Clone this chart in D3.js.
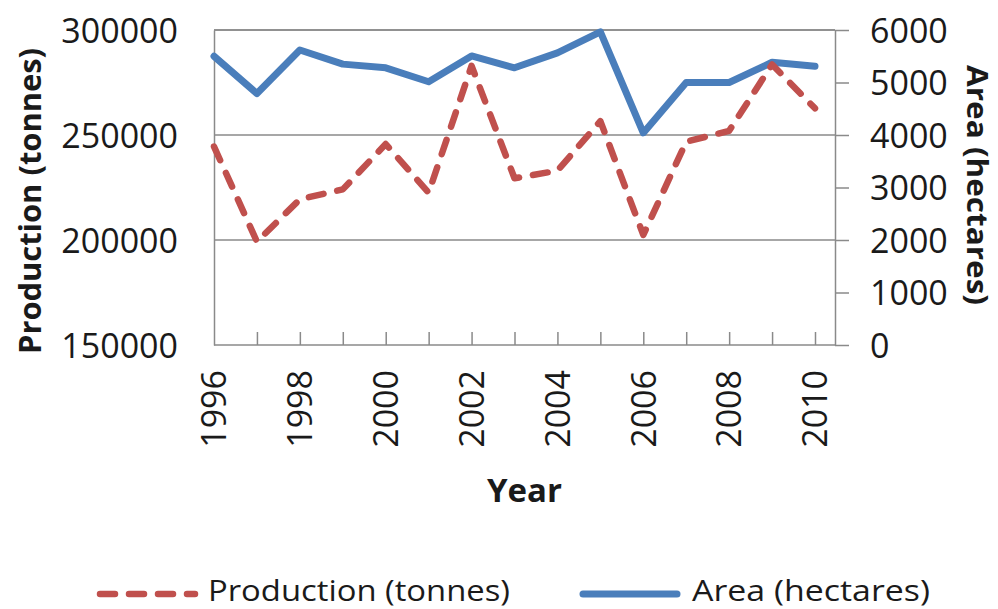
<!DOCTYPE html>
<html>
<head>
<meta charset="utf-8">
<script src="https://cdn.jsdelivr.net/npm/d3@7"></script>
<style>
  html, body { margin: 0; padding: 0; background: #fff; }
  svg { display: block; }
  text { font-family: "Open Sans", "DejaVu Sans", sans-serif; fill: #1a1a1a; }
</style>
</head>
<body>
<svg id="chart" width="998" height="609"></svg>
<script>
// ---- data ----
const years = [1996, 1997, 1998, 1999, 2000, 2001, 2002, 2003, 2004, 2005, 2006, 2007, 2008, 2009, 2010];
const production = [244500, 199200, 219400, 224100, 245700, 222500, 282900, 229400, 233000, 256600, 202400, 246800, 252000, 283600, 262700];
const area = [5500, 4790, 5620, 5350, 5280, 5015, 5505, 5280, 5565, 5965, 4040, 5000, 5000, 5385, 5310];
const yearLabels = [1996, 1998, 2000, 2002, 2004, 2006, 2008, 2010];
const leftTicks = [150000, 200000, 250000, 300000];
const rightTicks = [0, 1000, 2000, 3000, 4000, 5000, 6000];
const seriesNames = ["Production (tonnes)", "Area (hectares)"];

// ---- layout ----
const svg = d3.select("#chart");
const L = 214, R = 835, T = 30, B = 345, lastX = 815;
const gridColor = "#8a8a8a";
const red = "#C0504D", blue = "#4A7EBB";

const x = d3.scaleLinear().domain([years[0], years[years.length - 1]]).range([L, lastX]);
const yL = d3.scaleLinear().domain([150000, 300000]).range([B, T]);
const yR = d3.scaleLinear().domain([0, 6000]).range([B, T]);

// gridlines (left axis major)
svg.append("g").selectAll("line").data(leftTicks.slice(1)).join("line")
  .attr("x1", L).attr("x2", R)
  .attr("y1", d => yL(d)).attr("y2", d => yL(d))
  .attr("stroke", gridColor).attr("stroke-width", 1.5);

// left axis (line, no ticks)
const gL = svg.append("g").attr("transform", `translate(${L},0)`)
  .call(d3.axisLeft(yL).tickValues(leftTicks).tickSize(0).tickPadding(36).tickFormat(d3.format("d")));
gL.select(".domain").attr("stroke", gridColor).attr("stroke-width", 1.5);
gL.selectAll("text").attr("font-size", 34).attr("fill", "#1a1a1a")
  .attr("font-family", "Open Sans").attr("dy", "0.36em");

// right axis
const gR = svg.append("g").attr("transform", `translate(${R},0)`)
  .call(d3.axisRight(yR).tickValues(rightTicks).tickSize(14).tickSizeOuter(0).tickPadding(21).tickFormat(d3.format("d")));
gR.select(".domain").attr("stroke", gridColor).attr("stroke-width", 1.5);
gR.selectAll(".tick line").attr("stroke", gridColor).attr("stroke-width", 1.5);
gR.selectAll("text").attr("font-size", 34).attr("fill", "#1a1a1a")
  .attr("font-family", "Open Sans").attr("dy", "0.36em");

// bottom axis (ticks pointing inward)
const gB = svg.append("g").attr("transform", `translate(0,${B})`)
  .call(d3.axisBottom(x).tickValues(years.slice(1)).tickSize(-13).tickSizeOuter(0).tickFormat(""));
gB.select(".domain").attr("d", `M${L},0H${R}`).attr("stroke", gridColor).attr("stroke-width", 1.5);
gB.selectAll(".tick line").attr("stroke", gridColor).attr("stroke-width", 1.5);

// top frame line (300000 gridline)
svg.append("line").attr("x1", L).attr("x2", R).attr("y1", yL(300000)).attr("y2", yL(300000))
  .attr("stroke", gridColor).attr("stroke-width", 1.5);

// x tick labels (rotated)
svg.append("g").selectAll("text").data(yearLabels).join("text")
  .attr("transform", d => `translate(${x(d)},370) rotate(-90)`)
  .attr("text-anchor", "end").attr("dy", "0.36em")
  .attr("font-size", 34)
  .text(d => d);

// series lines
const lineP = d3.line().x((d, i) => x(years[i])).y(d => yL(d));
const lineA = d3.line().x((d, i) => x(years[i])).y(d => yR(d));

svg.append("path").datum(area).attr("d", lineA)
  .attr("fill", "none").attr("stroke", blue).attr("stroke-width", 7)
  .attr("stroke-linejoin", "round").attr("stroke-linecap", "round");

svg.append("path").datum(production).attr("d", lineP)
  .attr("fill", "none").attr("stroke", red).attr("stroke-width", 6.5)
  .attr("stroke-dasharray", "15,14").attr("stroke-linecap", "round")
  .attr("stroke-linejoin", "round");

// axis titles
svg.append("text").attr("transform", `translate(41,201) rotate(-90)`)
  .attr("text-anchor", "middle").attr("font-weight", "bold").attr("font-size", 31)
  .attr("textLength", 306).attr("lengthAdjust", "spacingAndGlyphs")
  .text("Production (tonnes)");

svg.append("text").attr("transform", `translate(967,185) rotate(90)`)
  .attr("text-anchor", "middle").attr("font-weight", "bold").attr("font-size", 28)
  .attr("textLength", 240).attr("lengthAdjust", "spacingAndGlyphs")
  .text("Area (hectares)");

svg.append("text").attr("x", (L + R) / 2).attr("y", 502)
  .attr("text-anchor", "middle").attr("font-weight", "bold").attr("font-size", 33)
  .text("Year");

// legend
const leg = svg.append("g");
leg.append("line").attr("x1", 100).attr("x2", 195).attr("y1", 594).attr("y2", 594)
  .attr("stroke", red).attr("stroke-width", 6.5).attr("stroke-dasharray", "15,14")
  .attr("stroke-linecap", "round");
leg.append("text").attr("x", 208).attr("y", 601).attr("font-size", 29)
  .attr("textLength", 302).attr("lengthAdjust", "spacingAndGlyphs")
  .text(seriesNames[0]);
leg.append("line").attr("x1", 583).attr("x2", 677).attr("y1", 594).attr("y2", 594)
  .attr("stroke", blue).attr("stroke-width", 7).attr("stroke-linecap", "round");
leg.append("text").attr("x", 692).attr("y", 601).attr("font-size", 29)
  .attr("textLength", 238).attr("lengthAdjust", "spacingAndGlyphs")
  .text(seriesNames[1]);
</script>
</body>
</html>
